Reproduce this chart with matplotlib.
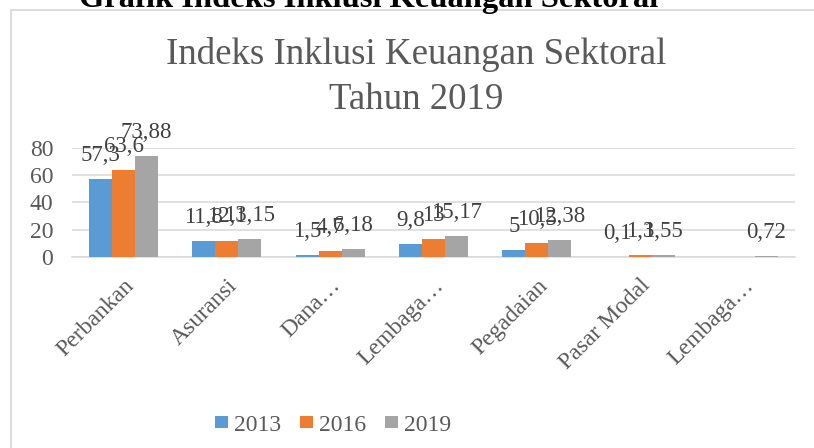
import matplotlib
matplotlib.use("Agg")
import matplotlib.pyplot as plt
import matplotlib.patches as mpatches
import numpy as np

categories = ["Perbankan", "Asuransi", "Dana…", "Lembaga…", "Pegadaian", "Pasar Modal", "Lembaga…"]
series_names = ["2013", "2016", "2019"]
values_2013 = [57.3, 11.8, 1.5, 9.8, 5, 0.1, np.nan]
values_2016 = [63.6, 12.1, 4.7, 13, 10.5, 1.3, np.nan]
values_2019 = [73.88, 13.15, 6.18, 15.17, 12.38, 1.55, 0.72]
y_ticks = [0, 20, 40, 60, 80]

colors = ["#5b9bd5", "#ed7d31", "#a5a5a5"]
FONT = "Liberation Serif"
plt.rcParams["font.family"] = [FONT, "DejaVu Serif"]

W, H = 814, 448
fig = plt.figure(figsize=(W / 100, H / 100), dpi=100)
fig.patch.set_facecolor("white")

def fx(px):
    return px / W

def fy(py):
    return 1 - py / H

# outer bold heading (clipped at top)
fig.text(fx(369), fy(7.5), "Grafik Indeks Inklusi Keuangan Sektoral", ha="center", va="baseline",
         fontsize=23.4, fontweight="bold", color="black")

# chart frame
frame = mpatches.Rectangle((fx(11), -0.1), 1.2, fy(10) + 0.1, transform=fig.transFigure,
                           fill=False, edgecolor="#d9d9d9", lw=1.3)
fig.patches.append(frame)

# chart title
fig.text(fx(416.5), fy(64), "Indeks Inklusi Keuangan Sektoral", ha="center", va="baseline",
         fontsize=26.6, color="#595959")
fig.text(fx(416.5), fy(109), "Tahun 2019", ha="center", va="baseline",
         fontsize=26.6, color="#595959")

ax = fig.add_axes([fx(72), fy(257), fx(795) - fx(72), fy(148) - fy(257)])
x = np.arange(len(categories))
bw = 0.223
all_vals = [values_2013, values_2016, values_2019]
for i, (vals, c, name) in enumerate(zip(all_vals, colors, series_names)):
    pos = x + (i - 1) * bw
    ax.bar(pos, vals, width=bw, color=c, label=name, zorder=3)
    for p, v in zip(pos, vals):
        if np.isnan(v):
            continue
        ax.annotate(f"{v:g}".replace(".", ","), (p, v), xytext=(0, 13), textcoords="offset points",
                    ha="center", va="baseline", fontsize=16.5, color="#404040", zorder=4,
                    annotation_clip=False)

ax.set_xlim(-0.5, len(categories) - 0.5)
ax.set_ylim(0, 80)
ax.set_yticks(y_ticks)
ax.yaxis.grid(True, color="#d9d9d9", lw=1.1, zorder=0)
ax.set_axisbelow(True)
for s in ["top", "right", "left"]:
    ax.spines[s].set_visible(False)
ax.spines["bottom"].set_color("#d9d9d9")
ax.spines["bottom"].set_linewidth(1.1)
ax.tick_params(axis="y", length=0, pad=13.5, labelsize=17, labelcolor="#595959")
ax.tick_params(axis="x", length=0, pad=13, labelsize=17, labelcolor="#595959")
ax.set_xticks(x)
ax.set_xticklabels(categories, rotation=45, ha="right", rotation_mode="anchor")
ax.set_facecolor("none")

fig.legend(loc="center", bbox_to_anchor=(fx(333), fy(425)), ncol=3, frameon=False,
           fontsize=17, handlelength=0.55, handleheight=0.45, handletextpad=0.25,
           columnspacing=0.8, labelcolor="#595959", borderaxespad=0, borderpad=0)

fig.savefig("out.png", dpi=100, facecolor="white")
